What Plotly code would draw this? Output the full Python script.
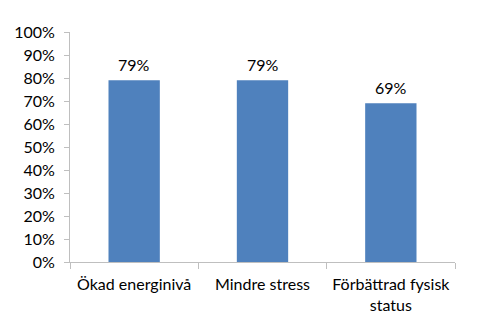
import plotly.graph_objects as go

categories = ["Ökad energinivå", "Mindre stress", "Förbättrad fysisk<br>status"]
values = [0.79, 0.79, 0.69]

font_family = "Lato, 'Open Sans', sans-serif"
axis_color = "#BFBFBF"

fig = go.Figure(
    go.Bar(
        x=categories,
        y=values,
        marker=dict(color="#4F81BD", line=dict(width=0)),
        width=0.4,
        cliponaxis=False,
    )
)

# value labels above each bar
for cat, val in zip(categories, values):
    fig.add_annotation(
        x=cat,
        y=val,
        text=f"{val:.0%}",
        showarrow=False,
        yanchor="bottom",
        yshift=4,
        font=dict(size=16, color="#000000", family=font_family),
    )

fig.update_layout(
    width=483,
    height=336,
    margin=dict(l=70, r=28, t=32, b=74),
    paper_bgcolor="white",
    plot_bgcolor="white",
    showlegend=False,
    font=dict(family=font_family, size=16, color="#000000"),
)

fig.update_xaxes(
    range=[-0.5, 2.5],
    showline=True,
    linecolor=axis_color,
    linewidth=1,
    ticks="outside",
    tickson="boundaries",
    ticklen=6,
    tickcolor=axis_color,
    showgrid=False,
    ticklabelstandoff=8,
    tickfont=dict(size=16),
)

fig.update_yaxes(
    range=[0, 1],
    dtick=0.1,
    tickformat=".0%",
    showline=True,
    linecolor=axis_color,
    linewidth=1,
    ticks="outside",
    ticklen=5,
    tickcolor=axis_color,
    showgrid=False,
    zeroline=False,
    ticklabelstandoff=6,
    tickfont=dict(size=16),
)

fig.write_html("out.html")
